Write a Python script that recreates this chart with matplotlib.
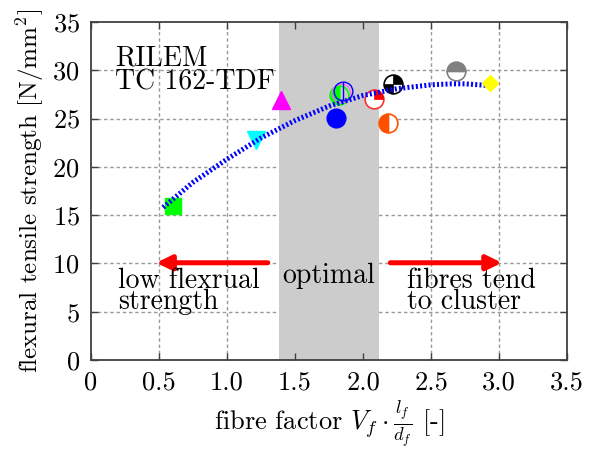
import matplotlib
matplotlib.use("Agg")
import numpy as np
import matplotlib.pyplot as plt
from matplotlib.path import Path

plt.rcParams.update({'font.family': 'serif',
                     'font.serif': ['cmr10', 'DejaVu Serif'],
                     'mathtext.fontset': 'cm',
                     'axes.formatter.use_mathtext': True,
                     'font.size': 18})

# measured points (fibre factor, flexural tensile strength)
sq_x, sq_y = [0.60], [15.9]
tri_dn_x, tri_dn_y = [1.21], [22.8]
tri_up_x, tri_up_y = [1.40], [26.9]
blue_x, blue_y = [1.80], [25.1]
green_half_x, green_half_y = [1.82], [27.4]
blue_open_x, blue_open_y = [1.855], [27.9]
red_q_x, red_q_y = [2.08], [27.0]
orange_x, orange_y = [2.18], [24.5]
bw_x, bw_y = [2.22], [28.6]
gray_x, gray_y = [2.68], [29.9]
dia_x, dia_y = [2.93], [28.7]

# trend curve
fit_x = [0.53, 0.75, 1.0, 1.25, 1.5, 1.75, 2.0, 2.25, 2.5, 2.65, 2.75, 2.9]
fit_y = [15.8, 18.4, 20.8, 23.0, 24.8, 26.3, 27.4, 28.1, 28.5, 28.6, 28.6, 28.45]

band = (1.38, 2.12)
xticks = [0, 0.5, 1.0, 1.5, 2.0, 2.5, 3.0, 3.5]
xticklabels = ['0', '0.5', '1.0', '1.5', '2.0', '2.5', '3.0', '3.5']
yticks = [0, 5, 10, 15, 20, 25, 30, 35]

fig = plt.figure(figsize=(5.94, 4.5), dpi=100)
ax = fig.add_axes([0.153, 0.2, 0.802, 0.751])

ax.set_xlim(0, 3.5)
ax.set_ylim(0, 35)
ax.set_xticks(xticks)
ax.set_xticklabels(xticklabels)
ax.set_yticks(yticks)

# grid under the grey band, ticks above it
for t in xticks[1:-1]:
    ax.axvline(t, color='#999999', lw=1.0, ls=(0, (2.5, 2)), zorder=0.5)
for t in yticks[1:-1]:
    ax.axhline(t, color='#999999', lw=1.0, ls=(0, (2.5, 2)), zorder=0.5)
ax.axvspan(band[0], band[1], color='#cccccc', lw=0, zorder=1)

ms = 13.5
ax.plot(sq_x, sq_y, 's', color='#00ff00', ms=11.5, mec='#00ff00', zorder=3)
ax.plot(tri_dn_x, tri_dn_y, 'v', color='#00ffff', ms=13, zorder=3)
ax.plot(tri_up_x, tri_up_y, '^', color='#ff00ff', ms=13, zorder=3)
ax.plot(blue_x, blue_y, 'o', color='#0000ff', ms=ms, zorder=3)
ax.plot(green_half_x, green_half_y, 'o', ms=ms, mfc='#00ff00', mec='#00ff00',
        fillstyle='left', mfcalt='none', mew=1.2, zorder=3)
ax.plot([x - 0.015 for x in blue_open_x], [y - 0.2 for y in blue_open_y], 'o',
        ms=ms, mfc='none', mec='#ff66ff', mew=1.0, zorder=3)
ax.plot(blue_open_x, blue_open_y, 'o', ms=ms, mfc='none', mec='#0000ff',
        mew=1.0, zorder=3)
ax.plot(blue_open_x, blue_open_y, '|', ms=ms, mec='#0000ff', mew=1.0, zorder=3)

q1 = Path.wedge(0, 90)
q3 = Path.wedge(180, 270)
ax.plot(red_q_x, red_q_y, 'o', ms=ms, mfc='white', mec='#ff3030', mew=1.2, zorder=3)
ax.plot(red_q_x, red_q_y, marker=q1, ls='none', ms=ms, mfc='#ff0000',
        mec='#ff0000', mew=0.5, zorder=3)
ax.plot(orange_x, orange_y, 'o', ms=ms, mfc='#ff5000', mec='#ff5000',
        fillstyle='left', mfcalt='white', mew=1.2, zorder=3)
ax.plot(bw_x, bw_y, 'o', ms=ms, mfc='white', mec='black', mew=1.2, zorder=3)
ax.plot(bw_x, bw_y, marker=q1, ls='none', ms=ms, mfc='black', mec='black',
        mew=0.5, zorder=3)
ax.plot(bw_x, bw_y, marker=q3, ls='none', ms=ms, mfc='black', mec='black',
        mew=0.5, zorder=3)
ax.plot(gray_x, gray_y, 'o', ms=ms, mfc='#808080', mec='#808080',
        fillstyle='top', mfcalt='white', mew=1.2, zorder=3)

ax.plot(fit_x, fit_y, color='#0000ff', lw=3.6, ls=(0, (0.4, 0.45)),
        dash_capstyle='butt', zorder=4)
ax.plot(dia_x, dia_y, 'D', color='#ffff00', ms=8, zorder=5)

# arrows and annotations
arrow = dict(arrowstyle='-|>,head_length=0.45,head_width=0.22', color='#ff0000',
             lw=3.6, mutation_scale=20, shrinkA=0, shrinkB=0)
ax.annotate('', xy=(0.48, 10.07), xytext=(1.30, 10.07), arrowprops=arrow, zorder=4)
ax.annotate('', xy=(3.02, 10.07), xytext=(2.20, 10.07), arrowprops=arrow, zorder=4)

tsize = 20
ax.text(0.18, 30.5, 'RILEM', fontsize=tsize, va='baseline', zorder=5)
ax.text(0.18, 28.0, 'TC 162-TDF', fontsize=tsize, va='baseline', zorder=5)
ax.text(np.mean(band), 8.0, 'optimal', fontsize=tsize, ha='center',
        va='baseline', zorder=5)
ax.text(0.2, 7.5, 'low flexrual', fontsize=tsize, va='baseline', zorder=5)
ax.text(0.2, 5.3, 'strength', fontsize=tsize, va='baseline', zorder=5)
ax.text(2.32, 7.5, 'fibres tend', fontsize=tsize, va='baseline', zorder=5)
ax.text(2.32, 5.3, 'to cluster', fontsize=tsize, va='baseline', zorder=5)

ax.set_xlabel(r'fibre factor $V_f \cdot \frac{l_f}{d_f}$ [-]', fontsize=19,
              labelpad=3)
ax.set_ylabel(r'flexural tensile strength [N/mm$^2$]', fontsize=18, labelpad=5)

for s in ax.spines.values():
    s.set_linewidth(1.3)
    s.set_color('#404040')
    s.set_zorder(6)
ax.tick_params(direction='in', length=5, width=1.0, top=True, right=True,
               color='#404040', pad=8, labelsize=19)

fig.savefig('out.png', dpi=100)
